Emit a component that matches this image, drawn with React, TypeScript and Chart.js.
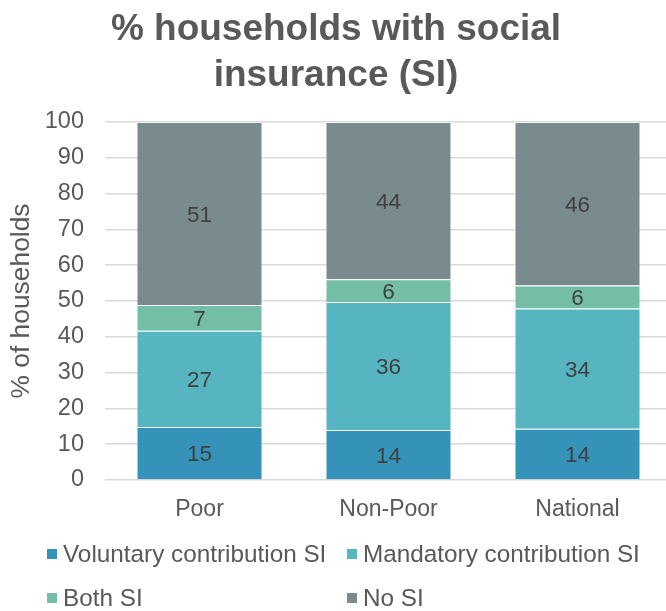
import React, { useEffect, useRef } from "react";
import { Chart, registerables } from "chart.js";

Chart.register(...registerables);

const categories = ["Poor", "Non-Poor", "National"];
const voluntary = [14.8, 14.0, 14.3];
const mandatory = [26.9, 35.7, 33.6];
const bothSI = [7.2, 6.4, 6.4];
const noSI = [51.1, 43.9, 45.7];
const seriesNames = ["Voluntary contribution SI", "Mandatory contribution SI", "Both SI", "No SI"];
const seriesColors = ["#3592B8", "#56B5C0", "#74BEA5", "#7A8B8D"];
const titleLines = ["% households with social", "insurance (SI)"];
const yTicks = [0, 10, 20, 30, 40, 50, 60, 70, 80, 90, 100];

const FONT = '"Liberation Sans", Arial, sans-serif';

export default function App() {
  const ref = useRef<HTMLCanvasElement | null>(null);

  useEffect(() => {
    if (!ref.current) return;
    const values = [voluntary, mandatory, bothSI, noSI];

    const titlePlugin = {
      id: "customTitle",
      afterDraw(chart: any) {
        const ctx = chart.ctx;
        ctx.save();
        ctx.fillStyle = "#595959";
        ctx.font = `bold 37px ${FONT}`;
        ctx.textAlign = "center";
        ctx.textBaseline = "alphabetic";
        ctx.fillText(titleLines[0], 336, 40);
        ctx.fillText(titleLines[1], 336, 86);
        ctx.restore();
      },
    };

    const labelPlugin = {
      id: "segLabels",
      afterDatasetsDraw(chart: any) {
        const ctx = chart.ctx;
        ctx.save();
        ctx.fillStyle = "#404040";
        ctx.font = `22.5px ${FONT}`;
        ctx.textAlign = "center";
        ctx.textBaseline = "middle";
        chart.data.datasets.forEach((ds: any, i: number) => {
          const meta = chart.getDatasetMeta(i);
          meta.data.forEach((el: any, j: number) => {
            const v = ds.data[j];
            const y = (el.y + el.base) / 2;
            ctx.fillText(String(Math.round(v)), el.x, y + 2);
          });
        });
        ctx.restore();
      },
    };

    const legendPlugin = {
      id: "gridLegend",
      afterDraw(chart: any) {
        const ctx = chart.ctx;
        ctx.save();
        ctx.font = `24.3px ${FONT}`;
        ctx.textBaseline = "middle";
        ctx.textAlign = "left";
        const cols = [47, 347];
        const rows = [554, 598];
        seriesNames.forEach((name, i) => {
          const x = cols[i % 2];
          const y = rows[Math.floor(i / 2)];
          ctx.fillStyle = seriesColors[i];
          ctx.fillRect(x, y - 5, 10, 10);
          ctx.fillStyle = "#595959";
          ctx.fillText(name, x + 16, y + 1);
        });
        ctx.restore();
      },
    };

    const chart = new Chart(ref.current, {
      type: "bar",
      data: {
        labels: categories,
        datasets: seriesNames.map((name, i) => ({
          label: name,
          data: values[i],
          backgroundColor: seriesColors[i],
          borderColor: "rgba(255,255,255,0.45)",
          borderWidth: 1,
          categoryPercentage: 1,
          barPercentage: 126 / 189,
        })),
      },
      options: {
        responsive: false,
        animation: false,
        devicePixelRatio: 1,
        layout: { padding: { top: 122, left: 0, right: 8, bottom: 90 } },
        plugins: {
          legend: { display: false },
          title: { display: false },
          tooltip: { enabled: false },
        },
        scales: {
          x: {
            stacked: true,
            grid: { display: false, drawTicks: false },
            border: { display: false },
            ticks: {
              color: "#595959",
              font: { family: FONT, size: 23 },
              padding: 16,
            },
            afterFit(scale: any) {
              scale.height = 41;
            },
          },
          y: {
            stacked: true,
            min: 0,
            max: 100,
            afterBuildTicks(scale: any) {
              scale.ticks = yTicks.map((v) => ({ value: v }));
            },
            grid: { color: "#d9d9d9", lineWidth: 1.5, drawTicks: false },
            border: { display: false },
            ticks: {
              color: "#595959",
              font: { family: FONT, size: 23.5 },
              padding: 21,
            },
            title: {
              display: true,
              text: "% of households",
              color: "#595959",
              font: { family: FONT, size: 26.4 },
              padding: { top: 6, bottom: 0 },
            },
            afterFit(scale: any) {
              scale.width = 105;
            },
          },
        },
      },
      plugins: [titlePlugin, labelPlugin, legendPlugin],
    });

    return () => chart.destroy();
  }, []);

  return (
    <div
      style={{
        position: "absolute",
        left: 0,
        top: 0,
        width: 666,
        height: 611,
        overflow: "hidden",
        background: "#ffffff",
      }}
    >
      <canvas ref={ref} width={680} height={611} style={{ display: "block" }} />
    </div>
  );
}
